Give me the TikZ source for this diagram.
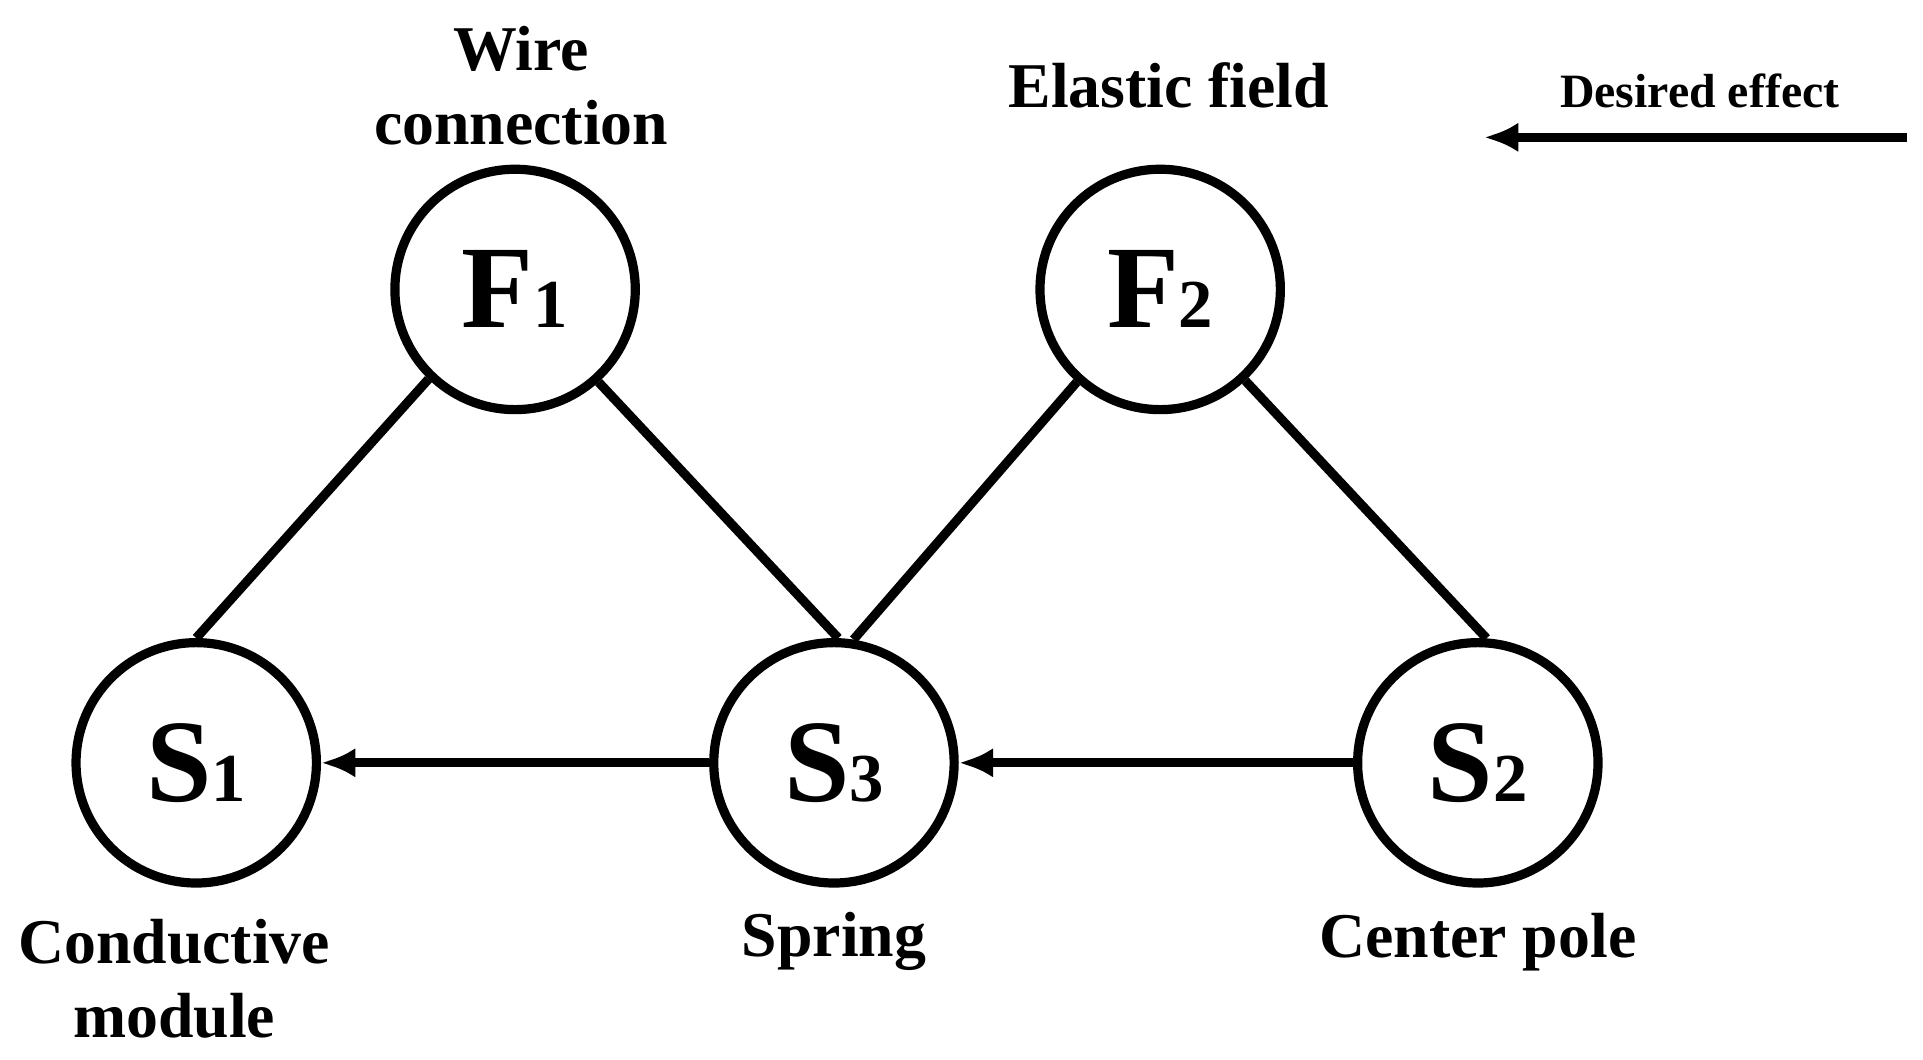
\documentclass[tikz,border=0pt]{standalone}
\usepackage{fontspec}
\setmainfont{Liberation Serif}[BoldFont={Liberation Serif Bold}]
\usetikzlibrary{arrows.meta}
\begin{document}
\begin{tikzpicture}[x=1pt,y=-1pt,
  st/.style={circle,draw,line width=7.5pt,minimum size=196pt,inner sep=0pt},
  lab/.style={font=\fontsize{52}{60}\selectfont\bfseries,align=center},
  ln/.style={line width=7.5pt},
  ar/.style={line width=7.5pt,-{Latex[length=28pt,width=24pt]}}]
\useasboundingbox (0,0) rectangle (1568,864);
\newcommand{\nm}[2]{{\fontsize{96}{96}\selectfont\bfseries #1}{\fontsize{56}{56}\selectfont\bfseries #2}}
\node[st] (F1) at (420,236) {\nm{F}{1}};
\node[st] (F2) at (946,236) {\nm{F}{2}};
\node[st] (S1) at (160,622) {\nm{S}{1}};
\node[st] (S3) at (680,622) {\nm{S}{3}};
\node[st] (S2) at (1205,622) {\nm{S}{2}};
\draw[ln] (F1.-134) -- (S1.90);
\draw[ln] (F1.-48) -- (S3.88);
\draw[ln] (F2.-132) -- (S3.81);
\draw[ln] (F2.-47) -- (S2.86);
\draw[ar] (S3) -- (S1);
\draw[ar] (S2) -- (S3);
\node[lab] (w) at (425,70) {Wire\\connection};
\node[lab] (e) at (953,70) {Elastic field};
\node[lab,font=\fontsize{39}{40}\selectfont\bfseries] (d) at (1386,74) {Desired effect};
\coordinate (a1) at (1555,112);
\coordinate (a2) at (1210,112);
\draw[ar] (a1) -- (a2);
\node[lab] (c) at (142,798) {Conductive\\module};
\node[lab] (s) at (680,768) {Spring};
\node[lab] (p) at (1205,768) {Center pole};
\end{tikzpicture}
\end{document}
